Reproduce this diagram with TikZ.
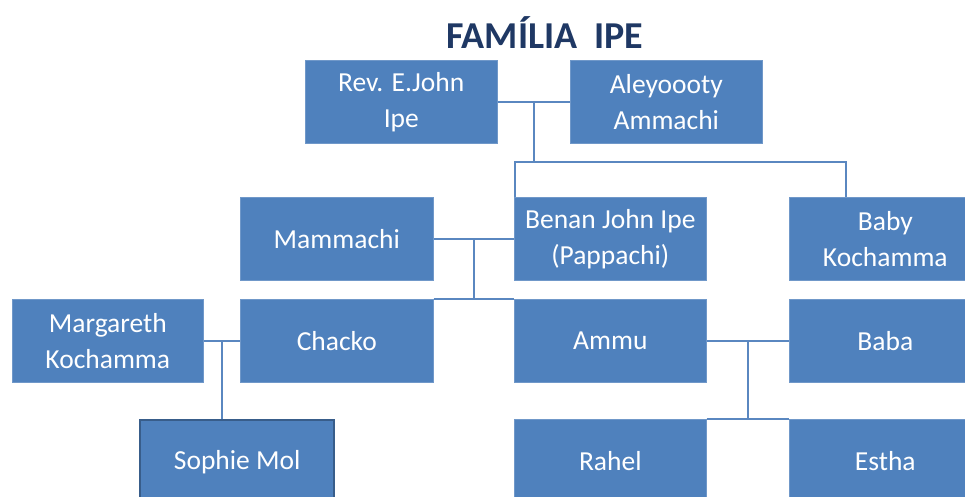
\documentclass[tikz,border=0pt]{standalone}
\usepackage{fontspec}
\setmainfont{Carlito}
\usetikzlibrary{calc}
\definecolor{boxfill}{HTML}{4F81BD}
\definecolor{boxline}{HTML}{7098C9}
\definecolor{conn}{HTML}{5A87C0}
\definecolor{navy}{HTML}{1F3864}
\definecolor{sophline}{HTML}{385D8A}
\tikzset{
  person/.style={anchor=north west, fill=boxfill, draw=boxline, line width=0.6pt,
    minimum width=192pt, minimum height=83pt, inner sep=0pt, align=center,
    text=white, font=\fontsize{27.5}{36}\selectfont},
  link/.style={draw=conn, line width=1.6pt},
}
\begin{document}
\begin{tikzpicture}[x=1pt,y=-1pt]
\useasboundingbox (0,0) rectangle (965,497);
\clip (0,0) rectangle (965,497);
\fill[white] (0,0) rectangle (965,497);
% title
\node[text=navy, font=\fontsize{38}{44}\selectfont\bfseries] (title) at (545,33) {FAMÍLIA~~IPE};
% row 1
\node[person] (rev) at (305,60) {Rev. E.John\\Ipe};
\node[person] (aley) at (570,60) {Aleyoooty\\Ammachi};
% row 2
\node[person, minimum width=193pt] (mam) at (240,197) {Mammachi};
\node[person] (benan) at (514,197) {Benan John Ipe\\(Pappachi)};
\node[person] (baby) at (789,197) {Baby\\Kochamma};
% row 3
\node[person, minimum width=191pt] (marg) at (12,299) {Margareth\\Kochamma};
\node[person, minimum width=193pt] (chacko) at (240,299) {Chacko};
\node[person] (ammu) at (514,299) {Ammu};
\node[person] (baba) at (789,299) {Baba};
% row 4
\node[person, minimum width=194pt, draw=sophline, line width=2.4pt] (sophie) at (139,419) {Sophie Mol};
\node[person] (rahel) at (514,419) {Rahel};
\node[person] (estha) at (789,419) {Estha};
% connectors generation 1
\coordinate (j1) at ($(rev.east)!0.5!(aley.west)$);
\coordinate (bar1) at (515,162);
\coordinate (bar2) at (846,162);
\draw[link] (rev.east) -- (aley.west);
\draw[link] (j1) -- (j1 |- bar1);
\draw[link] ([xshift=1pt]benan.north west) -- (bar1) -- (bar2) -- (bar2 |- baby.north);
% generation 2
\coordinate (j2) at ($(mam.east)!0.5!(benan.west)$);
\draw[link] (mam.east) -- (benan.west);
\draw[link] (j2) -- (j2 |- chacko.north);
\draw[link] (chacko.north east) -- (ammu.north west);
% generation 3
\coordinate (j3) at ($(marg.east)!0.5!(chacko.west)$);
\draw[link] (marg.east) -- (chacko.west);
\draw[link] (j3) -- (j3 |- sophie.north);
\coordinate (j4) at ($(ammu.east)!0.5!(baba.west)$);
\draw[link] (ammu.east) -- (baba.west);
\draw[link] (j4) -- (j4 |- rahel.north);
\draw[link] (rahel.north east) -- (estha.north west);
\end{tikzpicture}
\end{document}
